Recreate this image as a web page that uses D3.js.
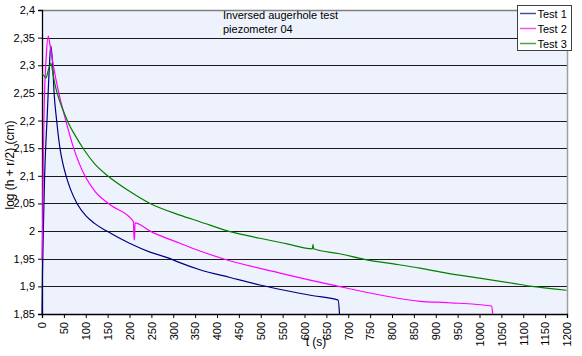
<!DOCTYPE html>
<html>
<head>
<meta charset="utf-8">
<script src="https://cdn.jsdelivr.net/npm/d3@7/dist/d3.min.js"></script>
<style>
  html, body { margin: 0; padding: 0; background: #fff; }
  svg { display: block; font-family: "Liberation Sans", Arial, sans-serif; }
</style>
</head>
<body>
<svg id="chart" width="582" height="356"></svg>
<script>
// ---- data ----
const seriesNames = ["Test 1", "Test 2", "Test 3"];
const seriesColors = ["#000080", "#ff00ff", "#008000"];

const test1T = [0, 1, 3, 6, 12, 17, 20, 24.5, 27.5, 33.5, 41, 48, 55, 65, 80, 100, 120, 148, 200, 247, 290, 315, 361, 430, 498, 560, 620, 677, 680];
const test1V = [1.85, 1.92, 2.0, 2.1, 2.21, 2.30, 2.335, 2.30, 2.252, 2.2, 2.15, 2.121, 2.10, 2.076, 2.05, 2.028, 2.014, 2.0, 1.978, 1.962, 1.951, 1.943, 1.930, 1.916, 1.9025, 1.892, 1.883, 1.875, 1.85];

const test2T = [0, 1, 2.5, 4.6, 10, 14.4, 18, 25.8, 37, 55, 71.6, 98, 121, 155, 209, 210.5, 211.5, 212.5, 247, 315, 361, 414, 544, 681, 773, 864, 925, 1028, 1030];
const test2V = [1.95, 1.99, 2.10, 2.21, 2.32, 2.353, 2.338, 2.30, 2.255, 2.198, 2.152, 2.1, 2.072, 2.048, 2.017, 1.984, 1.984, 2.015, 2.0, 1.978, 1.964, 1.950, 1.924, 1.8994, 1.8844, 1.873, 1.8705, 1.8645, 1.85];

const test3T = [0, 5, 9, 14, 20.6, 25, 30, 41, 52.6, 60, 75, 94.5, 120, 150, 200, 247, 315, 361, 430, 498, 560, 618, 619.5, 621, 680, 742, 800, 864, 925, 1000, 1077, 1120, 1199];
const test3V = [2.285, 2.281, 2.277, 2.290, 2.3035, 2.285, 2.264, 2.234, 2.21, 2.196, 2.174, 2.149, 2.122, 2.1, 2.072, 2.050, 2.029, 2.017, 1.999, 1.987, 1.977, 1.968, 1.976, 1.968, 1.959, 1.948, 1.941, 1.933, 1.924, 1.915, 1.9055, 1.900, 1.893];

const xTicks = [0,50,100,150,200,250,300,350,400,450,500,550,600,650,700,750,800,850,900,950,1000,1050,1100,1150,1200];
const yTicks = [1.85,1.9,1.95,2,2.05,2.1,2.15,2.2,2.25,2.3,2.35,2.4];
const yTickLabels = ["1,85","1,9","1,95","2","2,05","2,1","2,15","2,2","2,25","2,3","2,35","2,4"];

const titleLines = ["Inversed augerhole test", "piezometer 04"];
const xTitle = "t (s)";
const yTitle = "log (h + r/2) (cm)";

// ---- layout ----
const svg = d3.select("#chart");
const L = 42, R = 567, T = 10, B = 314;
const x = d3.scaleLinear().domain([0, 1200]).range([L, R]);
const y = d3.scaleLinear().domain([1.85, 2.4]).range([B, T]);

// plot background
svg.append("rect").attr("x", L).attr("y", T).attr("width", R - L).attr("height", B - T)
  .attr("fill", "#eef2fc");

// gridlines
svg.append("g").selectAll("line").data(yTicks.filter(v => v > 1.86 && v < 2.39)).join("line")
  .attr("x1", L).attr("x2", R)
  .attr("y1", d => Math.round(y(d)) + 0.5).attr("y2", d => Math.round(y(d)) + 0.5)
  .attr("stroke", "#1a1a1a").attr("stroke-width", 1);

// top and right border
svg.append("line").attr("x1", L).attr("x2", R).attr("y1", T + 0.5).attr("y2", T + 0.5)
  .attr("stroke", "#808080").attr("stroke-width", 1.5);
svg.append("line").attr("x1", R + 0.5).attr("x2", R + 0.5).attr("y1", T).attr("y2", B)
  .attr("stroke", "#a0a0a0").attr("stroke-width", 1.5);

// axes
const yAxis = d3.axisLeft(y).tickValues(yTicks).tickSize(4).tickPadding(3)
  .tickFormat((d, i) => yTickLabels[i]);
const gy = svg.append("g").attr("transform", `translate(${L},0)`).call(yAxis);
gy.select(".domain").attr("stroke", "#000").attr("stroke-width", 1.3);
gy.selectAll(".tick line").attr("stroke", "#000");
gy.selectAll(".tick text").attr("font-size", 11).attr("font-family", "Liberation Sans, Arial, sans-serif").attr("fill", "#000");

const xAxis = d3.axisBottom(x).tickValues(xTicks).tickSize(4).tickFormat(d => String(d));
const gx = svg.append("g").attr("transform", `translate(0,${B})`).call(xAxis);
gx.select(".domain").attr("stroke", "#000").attr("stroke-width", 1.3);
gx.selectAll(".tick line").attr("stroke", "#000");
gx.selectAll(".tick text")
  .attr("font-size", 11).attr("font-family", "Liberation Sans, Arial, sans-serif").attr("fill", "#000")
  .attr("text-anchor", "end")
  .attr("transform", "rotate(-90)")
  .attr("x", -8).attr("y", 0).attr("dy", "0.35em");

// series
const series = [
  {t: test1T, v: test1V},
  {t: test2T, v: test2V},
  {t: test3T, v: test3V}
];
const line = d3.line().x(d => x(d[0])).y(d => y(d[1])).curve(d3.curveMonotoneX);
series.forEach((s, i) => {
  const pts = s.t.map((t, k) => [t, s.v[k]]);
  svg.append("path").datum(pts).attr("d", line)
    .attr("fill", "none").attr("stroke", seriesColors[i]).attr("stroke-width", 1.2)
    .attr("stroke-linejoin", "round");
});

// title
svg.append("g").selectAll("text").data(titleLines).join("text")
  .attr("x", 223).attr("y", (d, i) => 19 + i * 13.7)
  .attr("font-size", 11).attr("fill", "#000").text(d => d);

// axis titles
svg.append("text").attr("x", 316).attr("y", 346).attr("text-anchor", "middle")
  .attr("font-size", 12).attr("fill", "#000").text(xTitle);
svg.append("text").attr("transform", "translate(14,165) rotate(-90)").attr("text-anchor", "middle")
  .attr("font-size", 12).attr("fill", "#000").text(yTitle);

// legend
const lg = svg.append("g");
lg.append("rect").attr("x", 517.5).attr("y", 5.5).attr("width", 54).attr("height", 45)
  .attr("fill", "#fff").attr("stroke", "#404040").attr("stroke-width", 1);
seriesNames.forEach((n, i) => {
  const yy = 13.5 + i * 15;
  lg.append("line").attr("x1", 520).attr("x2", 536).attr("y1", yy).attr("y2", yy)
    .attr("stroke", seriesColors[i]).attr("stroke-width", 1.5).attr("stroke-opacity", 0.7);
  lg.append("text").attr("x", 537.5).attr("y", yy + 4).attr("font-size", 11)
    .attr("fill", "#000").text(n);
});
</script>
</body>
</html>
